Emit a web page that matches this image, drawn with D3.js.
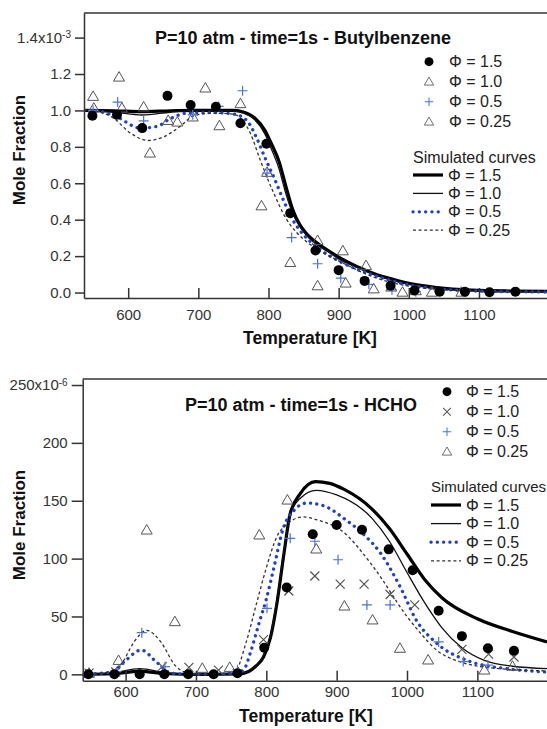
<!DOCTYPE html>
<html><head><meta charset="utf-8">
<script src="https://cdn.jsdelivr.net/npm/d3@7"></script>
<style>body{margin:0;background:#fff}svg{display:block}text{font-family:"Liberation Sans",Arial,sans-serif}</style>
</head><body><svg id="c" width="547" height="729"></svg>
<script>
// ---------- DATA ----------
const tempTicks = [600, 700, 800, 900, 1000, 1100];
const topYTicks = [0, 0.2, 0.4, 0.6, 0.8, 1.0, 1.2, 1.4];
const botYTicks = [0, 50, 100, 150, 200, 250];
const phiLabels = ["Φ = 1.5", "Φ = 1.0", "Φ = 0.5", "Φ = 0.25"];
const topTitle = "P=10 atm - time=1s - Butylbenzene";
const botTitle = "P=10 atm - time=1s - HCHO";

// Butylbenzene experimental (T [K], mole fraction x1e-3)
const bbExp15 = [[549,0.971],[584,0.976],[620,0.903],[656,1.08],[689,1.03],[725,1.02],[760,0.93],[797,0.817],[831,0.436],[867,0.231],[900,0.123],[937,0.064],[974,0.037],[1008,0.011],[1044,0.004],[1080,0.004],[1115,0.002],[1152,0.005]];
const bbExp10 = [[550,1.077],[587,1.183],[622,1.019],[657,0.945],[692,0.964],[710,1.123],[760,1.037],[798,0.66],[831,0.165],[870,0.286],[906,0.229],[939,0.148],[975,0.03],[1010,0.01]];
const bbExp05 = [[550,1.0],[585,1.046],[622,0.943],[692,0.976],[729,1.022],[763,1.108],[798,0.656],[833,0.302],[870,0.158],[903,0.079],[943,0.045],[976,0.015],[1010,0.005]];
const bbExp025 = [[551,1.013],[591,1.013],[631,0.766],[670,0.936],[730,0.916],[790,0.476],[870,0.037],[910,0.052],[950,0.02],[991,0.002],[1033,0.002],[1075,0.002]];
// Butylbenzene simulated
const bbSim15 = [[537,1.0],[580,0.998],[620,0.993],[660,0.998],[700,1.0],[750,1.0],[765,0.99],[780,0.96],[795,0.89],[805,0.81],[815,0.72],[825,0.58],[835,0.45],[845,0.37],[855,0.32],[870,0.27],[885,0.23],[900,0.195],[925,0.145],[950,0.105],[975,0.075],[1000,0.05],[1040,0.027],[1090,0.013],[1150,0.008],[1197,0.006]];
const bbSim10 = [[537,1.0],[580,0.99],[620,0.975],[660,0.99],[700,1.0],[750,0.998],[765,0.985],[780,0.95],[795,0.87],[805,0.78],[815,0.68],[825,0.54],[835,0.43],[845,0.36],[855,0.31],[870,0.26],[885,0.225],[900,0.185],[925,0.14],[950,0.1],[975,0.07],[1000,0.046],[1040,0.024],[1090,0.012],[1150,0.007],[1197,0.005]];
const bbSim05 = [[537,1.0],[551,1.0],[584,0.964],[617,0.903],[641,0.912],[660,0.955],[684,0.985],[720,0.988],[750,0.98],[769,0.945],[783,0.85],[795,0.74],[808,0.63],[821,0.51],[833,0.41],[845,0.34],[869,0.25],[902,0.17],[950,0.095],[1000,0.042],[1050,0.018],[1100,0.008],[1197,0.003]];
const bbSim025 = [[537,1.005],[560,0.99],[579,0.958],[603,0.876],[629,0.835],[650,0.854],[674,0.912],[693,0.97],[720,0.985],[750,0.98],[762,0.95],[774,0.876],[788,0.73],[807,0.55],[826,0.4],[840,0.33],[854,0.28],[875,0.225],[902,0.17],[950,0.085],[1000,0.035],[1050,0.015],[1100,0.006],[1197,0.002]];

// HCHO experimental (T [K], mole fraction x1e-6)
const hcExp15 = [[547,0],[584,0],[620,0],[655,0],[689,0],[725,0],[759,0.9],[797,23],[829,75],[866,121],[900,129],[936,125],[974,108],[1008,90],[1045,55],[1078,33],[1115,22.5],[1152,20.4]];
const hcExp10 = [[548,1],[586,2],[652,6.6],[690,6],[732,3.7],[796,30],[832,72],[869,85],[905,78],[939,78],[976,69],[1011,60],[1078,21.6],[1116,17.5],[1152,15]];
const hcExp05 = [[548,1],[587,2.3],[623,36],[656,6.6],[759,4],[801,57],[834,117.5],[869,115],[902,99],[943,60],[976,60],[1045,28],[1080,11],[1115,8]];
const hcExp025 = [[548,1],[590,12],[630,124.7],[670,45.5],[709,5.2],[748,6],[790,120.4],[830,150.6],[871,108.3],[911,59],[951,47],[990,22.5],[1030,12.4],[1110,3.7],[1150,7]];
// HCHO simulated
const hcSim15 = [[539,0],[580,0.5],[620,2.5],[660,0.5],[700,0],[760,0.3],[775,2.5],[785,7],[796,15],[806,32],[815,61],[825,104],[834,139],[848,156],[870,166.5],[890,165],[910,160],[950,143],[975,126],[1000,104],[1025,82],[1050,66],[1100,48],[1150,37],[1199,28]];
const hcSim10 = [[539,0],[580,1],[620,5],[660,1],[700,0],[760,0.3],[775,2.5],[785,7],[796,16],[806,34],[815,64],[825,106],[834,138],[848,152],[871,159],[900,155],[950,135],[975,115],[1000,88],[1025,62],[1050,40],[1078,23],[1110,12],[1150,7],[1199,5]];
const hcSim05 = [[539,0],[580,2],[600,12],[622,21],[645,10],[665,1],[700,0],[760,1],[770,6],[777,18],[791,47],[800,65],[810,90],[824,126],[840,142],[857,148],[880,146],[914,133],[940,120],[962,105],[990,76],[1014,46],[1042,27],[1090,11],[1140,5],[1199,2]];
const hcSim025 = [[539,0],[575,2],[595,10],[612,28],[630,38],[650,28],[670,8],[690,1],[720,0],[755,2],[771,27],[786,61],[800,92],[815,119],[830,130],[852,136],[875,133],[905,125],[952,93],[1000,50],[1020,35],[1042,21],[1080,10],[1130,5],[1199,3]];

// ---------- DRAW ----------
const svg = d3.select("#c");
const AX = "#333";
const markerPaths = {
  circle: d3.symbol().type(d3.symbolCircle).size(Math.PI * 25)(),
  triangle: "M0,-5.5L5.5,4L-5.5,4Z",
  plus: "M-5,0H5M0,-5V5",
  cross: "M-4.5,-4.5L4.5,4.5M-4.5,4.5L4.5,-4.5"
};
const markerStyle = {
  circle: {fill: "#000", stroke: "none", sw: 0},
  triangle: {fill: "none", stroke: "#555", sw: 1},
  plus: {fill: "none", stroke: "#4a72e0", sw: 1.2},
  cross: {fill: "none", stroke: "#555", sw: 1.2}
};
const lineStyles = [
  {stroke: "#000", sw: 3.2, dash: null, cap: "butt"},
  {stroke: "#111", sw: 1.3, dash: null, cap: "butt"},
  {stroke: "#1d3fd6", sw: 3.3, dash: "0.1,6.2", cap: "round"},
  {stroke: "#333", sw: 1.3, dash: "3,2.6", cap: "butt"}
];

function drawPanel(o, idx) {
  const g = svg.append("g");
  const x = d3.scaleLinear().domain(o.xd).range([o.left, 547]);
  const y = d3.scaleLinear().domain(o.yd).range([o.bottom, o.top]);
  const cid = "clip" + idx;
  svg.append("clipPath").attr("id", cid).append("rect")
    .attr("x", o.left).attr("y", o.top).attr("width", 547 - o.left + 5).attr("height", o.bottom - o.top);

  const line = d3.line().x(d => x(d[0])).y(d => y(d[1])).curve(d3.curveMonotoneX);
  const plot = g.append("g").attr("clip-path", `url(#${cid})`);
  o.sims.forEach((s, i) => {
    const st = lineStyles[i];
    plot.append("path").attr("d", line(s)).attr("fill", "none")
      .attr("stroke", st.stroke).attr("stroke-width", st.sw)
      .attr("stroke-dasharray", st.dash).attr("stroke-linecap", st.cap);
  });
  const order = [3, 1, 2, 0];
  order.forEach(i => {
    const m = o.markers[i], ms = markerStyle[m];
    plot.selectAll(null).data(o.exps[i]).enter().append("path")
      .attr("d", markerPaths[m])
      .attr("transform", d => `translate(${x(d[0])},${y(d[1])})`)
      .attr("fill", ms.fill).attr("stroke", ms.stroke).attr("stroke-width", ms.sw);
  });

  g.append("line").attr("x1", o.left).attr("x2", 547).attr("y1", o.top).attr("y2", o.top)
    .attr("stroke", AX).attr("stroke-width", 1.5);

  const xa = g.append("g").attr("transform", `translate(0,${o.bottom})`)
    .call(d3.axisBottom(x).tickValues(tempTicks).tickSizeInner(-10).tickSizeOuter(0).tickPadding(o.xpad).tickFormat(d3.format("d")));
  const ya = g.append("g").attr("transform", `translate(${o.left},0)`)
    .call(d3.axisLeft(y).tickValues(o.yticks).tickSizeInner(o.ytl).tickSizeOuter(0).tickPadding(4).tickFormat(o.yfmt));
  [xa, ya].forEach(a => {
    a.select(".domain").attr("stroke", AX).attr("stroke-width", 1.5);
    a.selectAll(".tick line").attr("stroke", AX).attr("stroke-width", 1.5);
    a.selectAll(".tick text").attr("fill", "#333").attr("font-size", 15).attr("font-family", '"Liberation Sans",Arial,sans-serif');
  });
  ya.selectAll(".tick text").filter(d => d === o.yticks[o.yticks.length - 1])
    .text(null).call(t => {
      t.append("tspan").text(o.yfmt(o.yticks[o.yticks.length - 1]) + "x10");
      t.append("tspan").attr("dy", "-0.45em").attr("font-size", 10).text(o.exp);
    });

  g.append("text").attr("x", o.titleX).attr("y", o.titleY).attr("dy", "0.35em")
    .attr("font-size", 18).attr("font-weight", "bold").attr("fill", "#111").text(o.title);
  g.append("text").attr("x", o.xtX).attr("y", o.xtY).attr("dy", "0.35em").attr("text-anchor", "middle")
    .attr("font-size", 17.5).attr("font-weight", "bold").attr("fill", "#111").text("Temperature [K]");
  g.append("text").attr("transform", `translate(19,${o.ytY}) rotate(-90)`).attr("dy", "0.35em")
    .attr("text-anchor", "middle").attr("font-size", 17).attr("font-weight", "bold").attr("fill", "#111").text("Mole Fraction");

  const lg = g.append("g");
  phiLabels.forEach((lab, i) => {
    const yy = o.legY0 + i * 20;
    const m = o.markers[i], ms = markerStyle[m];
    lg.append("path").attr("d", m === "circle" ? d3.symbol().type(d3.symbolCircle).size(Math.PI * 20)() : markerPaths[m])
      .attr("transform", `translate(${o.legMX},${yy}) scale(${m === "circle" ? 1 : 0.85})`)
      .attr("fill", ms.fill).attr("stroke", ms.stroke).attr("stroke-width", ms.sw);
    lg.append("text").attr("x", o.legTX).attr("y", yy).attr("dy", "0.35em")
      .attr("font-size", 16).attr("fill", "#222").text(lab);
  });
  lg.append("text").attr("x", o.simX).attr("y", o.simY).attr("dy", "0.35em")
    .attr("font-size", o.simFs).attr("fill", "#222").text("Simulated curves");
  phiLabels.forEach((lab, i) => {
    const yy = o.simY + 18 + i * o.simStep;
    const st = lineStyles[i];
    lg.append("line").attr("x1", o.simX).attr("x2", o.simX + 30).attr("y1", yy).attr("y2", yy)
      .attr("stroke", st.stroke).attr("stroke-width", st.sw)
      .attr("stroke-dasharray", st.dash).attr("stroke-linecap", st.cap);
    lg.append("text").attr("x", o.simX + 35).attr("y", yy).attr("dy", "0.35em")
      .attr("font-size", 16).attr("fill", "#222").text(lab);
  });
}

drawPanel({
  xd: [537, 1197], yd: [-0.03, 1.535], left: 84, top: 13, bottom: 298, xpad: 11,
  sims: [bbSim15, bbSim10, bbSim05, bbSim025],
  exps: [bbExp15, bbExp10, bbExp05, bbExp025],
  markers: ["circle", "triangle", "plus", "triangle"],
  yticks: topYTicks, ytl: 9, yfmt: d3.format(".1f"), exp: "-3",
  title: topTitle, titleX: 155, titleY: 38, xtX: 310, xtY: 338, ytY: 150,
  legY0: 61.7, legMX: 429, legTX: 449, simX: 413, simY: 157, simStep: 18.4, simFs: 16
}, 0);

drawPanel({
  xd: [539, 1199], yd: [-5.5, 255.2], left: 82.7, top: 379, bottom: 680.7, xpad: 6,
  sims: [hcSim15, hcSim10, hcSim05, hcSim025],
  exps: [hcExp15, hcExp10, hcExp05, hcExp025],
  markers: ["circle", "cross", "plus", "triangle"],
  yticks: botYTicks, ytl: 11, yfmt: d3.format("d"), exp: "-6",
  title: botTitle, titleX: 185, titleY: 405, xtX: 306, xtY: 716, ytY: 525,
  legY0: 391.7, legMX: 447, legTX: 466, simX: 431, simY: 487, simStep: 18.6, simFs: 15
}, 1);
</script></body></html>
